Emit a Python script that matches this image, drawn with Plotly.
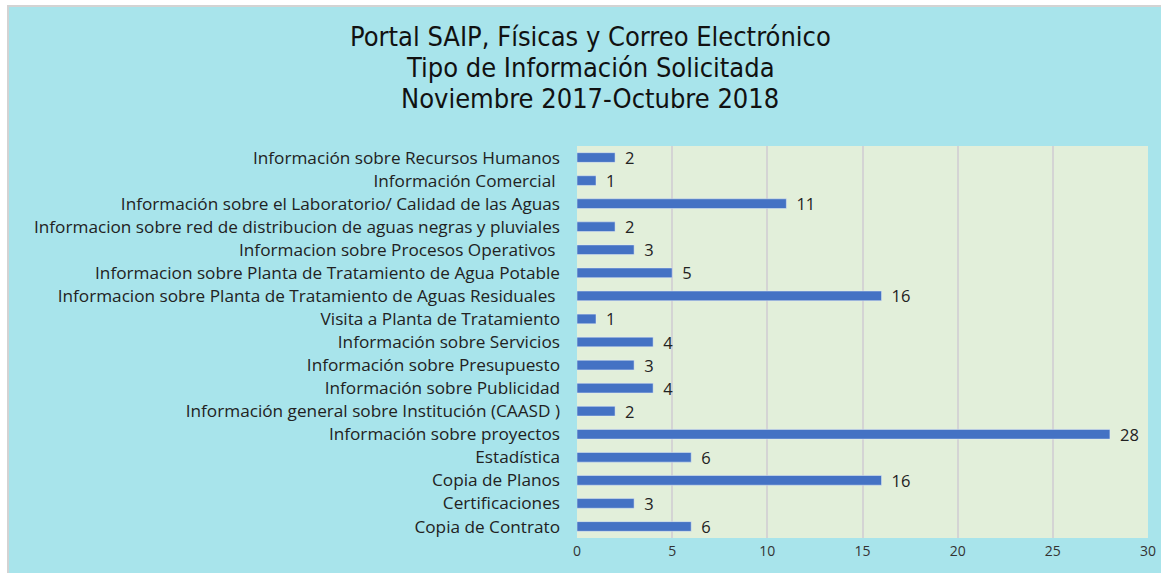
import plotly.graph_objects as go

categories = [
    "Información sobre Recursos Humanos",
    "Información Comercial\u00a0",
    "Información sobre el Laboratorio/ Calidad de las Aguas",
    "Informacion sobre red de distribucion de aguas negras y pluviales",
    "Informacion sobre Procesos Operativos\u00a0",
    "Informacion sobre Planta de Tratamiento de Agua Potable",
    "Informacion sobre Planta de Tratamiento de Aguas Residuales\u00a0",
    "Visita a Planta de Tratamiento",
    "Información sobre Servicios",
    "Información sobre Presupuesto",
    "Información sobre Publicidad",
    "Información general sobre Institución (CAASD )",
    "Información sobre proyectos",
    "Estadística",
    "Copia de Planos",
    "Certificaciones",
    "Copia de Contrato",
]
values = [2, 1, 11, 2, 3, 5, 16, 1, 4, 3, 4, 2, 28, 6, 16, 3, 6]
x_ticks = [0, 5, 10, 15, 20, 25, 30]

title_lines = ["Portal SAIP, Físicas y Correo Electrónico",
               "Tipo de Información Solicitada",
               "Noviembre 2017-Octubre 2018"]
title_y_px = [36, 68, 99]

W, H = 1161, 573
ML, MR, MT, MB = 577, 13, 146, 35
PW, PH = W - ML - MR, H - MT - MB

def px(x):
    return (x - ML) / PW

def py(y):
    return 1 - (y - MT) / PH

label_font = "'Open Sans', Lato, sans-serif"
title_font = "'Liberation Sans Narrow', 'DejaVu Sans Condensed', 'Roboto Condensed', sans-serif"

fig = go.Figure(go.Bar(
    x=values, y=categories, orientation="h",
    marker=dict(color="#4472C4"),
    width=0.42,
    text=values,
    texttemplate="\u00a0\u2009%{x}",
    textposition="outside",
    constraintext="none",
    textfont=dict(family=label_font, size=16.5, color="#222222"),
    cliponaxis=False,
))

fig.update_layout(
    width=W, height=H,
    margin=dict(l=ML, r=MR, t=MT, b=MB, autoexpand=False),
    paper_bgcolor="#A8E4EB",
    plot_bgcolor="#E2EFDA",
    showlegend=False,
    xaxis=dict(range=[0, 30], tickvals=x_ticks, showgrid=True, gridcolor="#D4D4D4",
               gridwidth=2, zeroline=False, showline=False,
               tickfont=dict(family=label_font, size=14, color="#333333"),
               ticks="", ticklabelstandoff=3),
    yaxis=dict(autorange="reversed", showgrid=False, showline=False, ticks="",
               ticklabelstandoff=16,
               tickfont=dict(family=label_font, size=17.2, color="#222222")),
    bargap=0.58,
)

for line, ypx in zip(title_lines, title_y_px):
    fig.add_annotation(text=line, xref="paper", yref="paper", x=px(590), y=py(ypx),
                       xanchor="center", yanchor="middle", showarrow=False,
                       font=dict(family=title_font, size=27, color="#111111"))

# outer white margin and gray border
fig.add_shape(type="rect", xref="paper", yref="paper", x0=px(0), x1=px(7), y0=py(H), y1=py(0),
              fillcolor="white", line_width=0, layer="below")
fig.add_shape(type="rect", xref="paper", yref="paper", x0=px(0), x1=px(W), y0=py(5), y1=py(0),
              fillcolor="white", line_width=0, layer="below")
fig.add_shape(type="rect", xref="paper", yref="paper", x0=px(7), x1=px(9), y0=py(H), y1=py(5),
              fillcolor="#D3D3D3", line_width=0, layer="below")
fig.add_shape(type="rect", xref="paper", yref="paper", x0=px(7), x1=px(W), y0=py(7), y1=py(5),
              fillcolor="#D3D3D3", line_width=0, layer="below")

fig.write_html("out.html", config={"displayModeBar": False},
               post_script="document.body.style.margin='0';")
